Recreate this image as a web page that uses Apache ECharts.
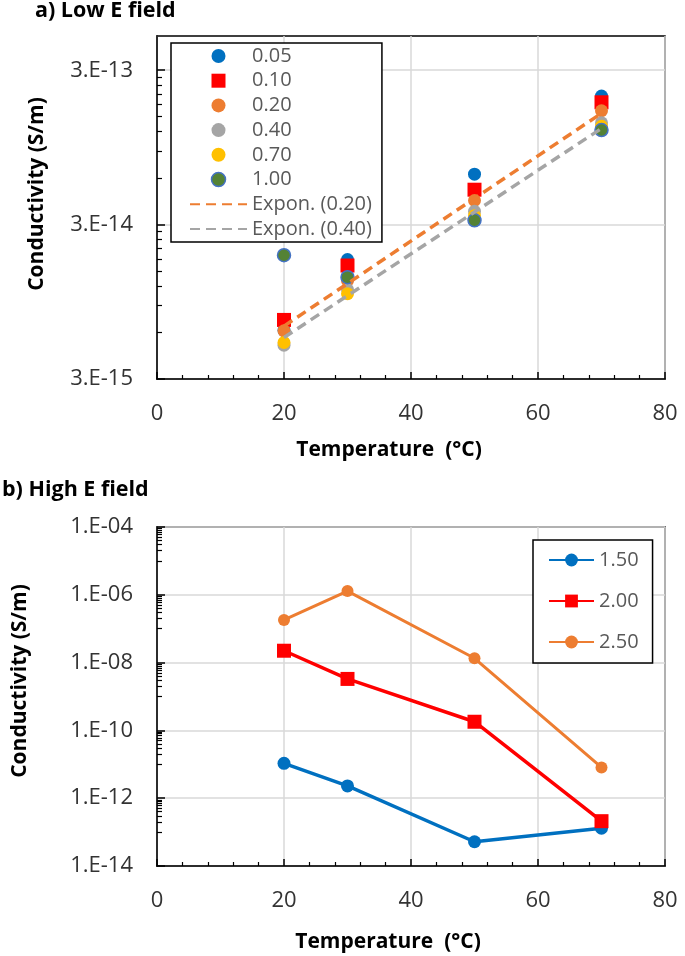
<!DOCTYPE html>
<html><head><meta charset="utf-8">
<script src="https://cdn.jsdelivr.net/npm/echarts@6/dist/echarts.min.js"></script>
<style>html,body{margin:0;padding:0;background:#fff;} #c{width:685px;height:956px;}</style>
</head><body><div id="c"></div>
<script>
// ---- data ----
const temps = [20, 30, 50, 70];
const lowNames = ['0.05', '0.10', '0.20', '0.40', '0.70', '1.00'];
const low005 = [6.2e-15, 1.78e-14, 6.37e-14, 2.04e-13];
const low010 = [7.24e-15, 1.63e-14, 5.05e-14, 1.86e-13];
const low020 = [6.15e-15, 1.30e-14, 4.3e-14, 1.64e-13];
const low040 = [4.97e-15, 1.14e-14, 3.66e-14, 1.37e-13];
const low070 = [5.17e-15, 1.07e-14, 3.43e-14, 1.30e-13];
const low100 = [1.9e-14, 1.37e-14, 3.2e-14, 1.23e-13];
const trendNames = ['Expon. (0.20)', 'Expon. (0.40)'];
const trendTemps = [20, 70];
const trend020 = [6.6e-15, 1.58e-13];
const trend040 = [5.57e-15, 1.26e-13];

const highNames = ['1.50', '2.00', '2.50'];
const high150 = [1.07e-11, 2.3e-12, 5.2e-14, 1.3e-13];
const high200 = [2.24e-8, 3.3e-9, 1.8e-10, 2.1e-13];
const high250 = [1.81e-7, 1.29e-6, 1.34e-8, 8.1e-12];

const lowYTicks = [3e-15, 3e-14, 3e-13];
const highYTicks = [1e-14, 1e-12, 1e-10, 1e-8, 1e-6, 1e-4];
const xTickStep = 20;

// minor tick values (Excel style log minor ticks)
const lowMinor = [];
[3e-15, 3e-14, 3e-13].forEach(b => { for (let k = 2; k <= 9; k++) { const v = b * k; if (v < 5e-13) lowMinor.push(v); } });
const highMinor = [];
[1e-14, 1e-12, 1e-10, 1e-8, 1e-6].forEach(b => { for (let k = 1; k <= 9; k++) highMinor.push(b * 10 * k); });

function sci(v) {
  const e = Math.floor(Math.log10(v) + 1e-9);
  const m = Math.round(v / Math.pow(10, e));
  const a = Math.abs(e);
  return m + '.E' + (e < 0 ? '-' : '+') + (a < 10 ? '0' + a : a);
}
function pairs(xs, ys) { return xs.map((x, i) => [x, ys[i]]); }

const FONT = 'Open Sans';
const lblColor = '#333';
const legColor = '#595959';
const SQUARE = 'path://M0,0h10v10h-10z';

function xAxisCfg(gi) {
  return {
    gridIndex: gi, type: 'value', min: 0, max: 80, interval: xTickStep,
    axisLine: { show: true, lineStyle: { color: '#000', width: 1.5 } },
    axisTick: { show: true, inside: true, length: 7, lineStyle: { color: '#000', width: 1.5 } },
    minorTick: { show: true, splitNumber: 5, length: 4, lineStyle: { color: '#000', width: 1.2 } },
    axisLabel: { fontSize: 22, fontFamily: FONT, color: lblColor, margin: 24 },
    splitLine: { show: true, lineStyle: { color: '#d9d9d9', width: 1.5 } },
    minorSplitLine: { show: false }
  };
}
function yAxisMain(gi, min, max, ticks) {
  return {
    gridIndex: gi, type: 'log', logBase: 10, min: min, max: max, position: 'left',
    axisLine: { show: true, lineStyle: { color: '#000', width: 1.5 } },
    axisTick: { show: true, inside: true, length: 8, customValues: ticks, lineStyle: { color: '#000', width: 1.5 } },
    axisLabel: { customValues: ticks, formatter: sci, fontSize: 22, fontFamily: FONT, color: lblColor, margin: 24 },
    splitLine: { show: true, lineStyle: { color: '#d9d9d9', width: 1.5 } }
  };
}
function yAxisMinor(gi, min, max, ticks) {
  return {
    gridIndex: gi, type: 'log', logBase: 10, min: min, max: max, position: 'left',
    axisLine: { show: false },
    axisTick: { show: true, inside: true, length: 5, customValues: ticks, lineStyle: { color: '#000', width: 1.2 } },
    axisLabel: { show: false },
    splitLine: { show: false }
  };
}

const lowColors = ['#0070c0', '#ff0000', '#ed7d31', '#a5a5a5', '#ffc000', '#548235'];
const lowData = [low005, low010, low020, low040, low070, low100];
const series = [];
lowNames.forEach((n, i) => {
  series.push({
    name: n, type: 'scatter', xAxisIndex: 0, yAxisIndex: 0,
    symbol: i === 1 ? 'rect' : 'circle', symbolSize: i === 1 ? 14 : 13,
    itemStyle: i === 5 ? { color: lowColors[i], borderColor: '#4472c4', borderWidth: 1.5, opacity: 1 } : { color: lowColors[i], opacity: 1 },
    data: pairs(temps, lowData[i]), z: 2 + i
  });
});
[[trend020, '#ed7d31'], [trend040, '#a5a5a5']].forEach((t, i) => {
  series.push({
    name: trendNames[i], type: 'line', xAxisIndex: 0, yAxisIndex: 0, symbol: 'none',
    lineStyle: { color: t[1], width: 3.5, type: [10, 6] }, itemStyle: { color: t[1] },
    data: pairs(trendTemps, t[0]), z: 10
  });
});
const highColors = ['#0070c0', '#ff0000', '#ed7d31'];
const highData = [high150, high200, high250];
highNames.forEach((n, i) => {
  series.push({
    name: n, type: 'line', xAxisIndex: 1, yAxisIndex: 2,
    symbol: i === 1 ? 'rect' : 'circle', symbolSize: i === 1 ? 14 : (i === 0 ? 13 : 12),
    lineStyle: { color: highColors[i], width: i === 2 ? 3 : 3.5 },
    itemStyle: { color: highColors[i] },
    data: pairs(temps, highData[i]), z: 3 + i
  });
});

const chart = echarts.init(document.getElementById('c'), null, { renderer: 'canvas' });
chart.setOption({
  animation: false,
  backgroundColor: '#fff',
  grid: [
    { left: 157, top: 36, width: 508, height: 343, show: true, borderColor: '#000', borderWidth: 1.5, backgroundColor: 'transparent' },
    { left: 157, top: 527, width: 508, height: 339, show: true, borderColor: '#000', borderWidth: 1.5, backgroundColor: 'transparent' }
  ],
  xAxis: [xAxisCfg(0), xAxisCfg(1)],
  yAxis: [
    yAxisMain(0, 3e-15, 5e-13, lowYTicks), yAxisMinor(0, 3e-15, 5e-13, lowMinor),
    yAxisMain(1, 1e-14, 1e-4, highYTicks), yAxisMinor(1, 1e-14, 1e-4, highMinor)
  ],
  legend: [
    {
      orient: 'vertical', left: 171, top: 43, padding: [3, 10, 3, 18], itemGap: 4.7,
      itemWidth: 57, itemHeight: 14, backgroundColor: '#fff', borderColor: '#000', borderWidth: 1.5,
      textStyle: { fontSize: 20, lineHeight: 20, fontFamily: FONT, color: legColor },
      data: lowNames.map((n, i) => i === 5 ? { name: n, itemStyle: { borderColor: '#4472c4', borderWidth: 1.5 } } :
        (i === 1 ? { name: n, icon: SQUARE } : { name: n }))
        .concat(trendNames.map(n => ({ name: n, itemStyle: { opacity: 0 } }))),
      z: 20
    },
    {
      orient: 'vertical', left: 533, top: 540, padding: [10, 14, 11, 15], itemGap: 21,
      itemWidth: 45, itemHeight: 16, backgroundColor: '#fff', borderColor: '#000', borderWidth: 1.5,
      textStyle: { fontSize: 20, lineHeight: 20, fontFamily: FONT, color: legColor },
      data: highNames, z: 20
    }
  ],
  graphic: [
    { type: 'text', left: 35, top: 0, style: { text: 'a) Low E field', font: 'bold 21.5px "Open Sans"', fill: '#000' } },
    { type: 'text', left: 2, top: 479, style: { text: 'b) High E field', font: 'bold 21.5px "Open Sans"', fill: '#000' } },
    { type: 'text', x: 389, y: 450, style: { text: 'Temperature  (°C)', font: 'bold 21px "Open Sans"', fill: '#000', align: 'center', verticalAlign: 'middle' } },
    { type: 'text', x: 388, y: 942, style: { text: 'Temperature  (°C)', font: 'bold 21px "Open Sans"', fill: '#000', align: 'center', verticalAlign: 'middle' } },
    { type: 'text', x: 37, y: 194, rotation: Math.PI / 2, style: { text: 'Conductivity (S/m)', font: 'bold 21px "Open Sans"', fill: '#000', align: 'center', verticalAlign: 'middle' } },
    { type: 'text', x: 20, y: 681, rotation: Math.PI / 2, style: { text: 'Conductivity (S/m)', font: 'bold 21px "Open Sans"', fill: '#000', align: 'center', verticalAlign: 'middle' } }
  ],
  series: series
});
</script></body></html>
